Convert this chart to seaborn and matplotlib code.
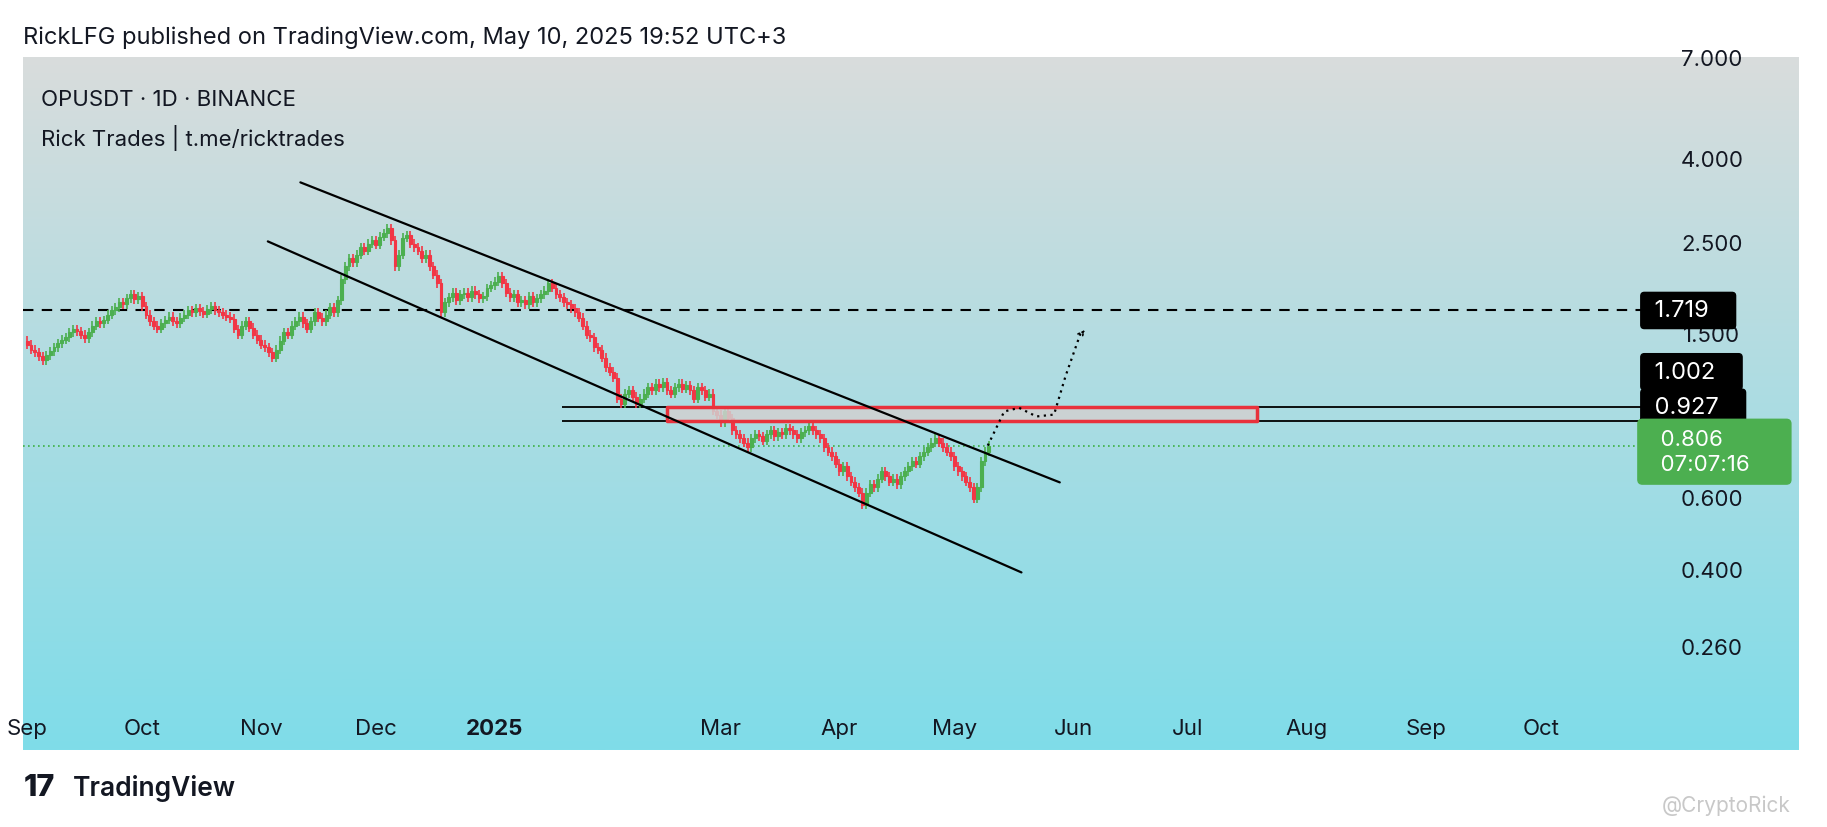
import numpy as np
import pandas as pd
import seaborn as sns
import matplotlib.pyplot as plt
from matplotlib.colors import LinearSegmentedColormap

# daily closes, OPUSDT, Sep 1 2024 .. May 10 2025
sep = [1.42, 1.38, 1.36, 1.33, 1.30, 1.34, 1.37, 1.40, 1.43, 1.46, 1.48, 1.52, 1.55, 1.53, 1.50,
       1.47, 1.52, 1.58, 1.62, 1.60, 1.63, 1.68, 1.72, 1.75, 1.80, 1.78, 1.84, 1.88, 1.83, 1.86]
oct_ = [1.76, 1.68, 1.62, 1.58, 1.55, 1.60, 1.63, 1.66, 1.62, 1.60, 1.65, 1.68, 1.72, 1.70, 1.74, 1.71,
        1.69, 1.73, 1.76, 1.72, 1.70, 1.68, 1.66, 1.64, 1.55, 1.50, 1.58, 1.62, 1.56, 1.50, 1.46]
nov = [1.42, 1.40, 1.36, 1.32, 1.38, 1.45, 1.52, 1.50, 1.58, 1.62, 1.66, 1.60, 1.55, 1.62, 1.70,
       1.65, 1.62, 1.68, 1.75, 1.70, 1.82, 2.05, 2.20, 2.30, 2.25, 2.35, 2.45, 2.40, 2.50, 2.55]
dec = [2.48, 2.60, 2.65, 2.72, 2.55, 2.20, 2.35, 2.58, 2.62, 2.50, 2.45, 2.40, 2.30, 2.35, 2.20, 2.10,
       2.00, 1.70, 1.80, 1.85, 1.90, 1.82, 1.88, 1.90, 1.85, 1.92, 1.88, 1.84, 1.86, 1.95, 1.98]
jan = [2.02, 2.08, 2.00, 1.90, 1.85, 1.88, 1.80, 1.82, 1.78, 1.86, 1.80, 1.84, 1.88, 1.92, 2.00, 1.95,
       1.88, 1.85, 1.80, 1.78, 1.74, 1.70, 1.65, 1.58, 1.50, 1.48, 1.40, 1.38, 1.32, 1.25, 1.22]
feb = [1.18, 1.05, 1.02, 1.08, 1.10, 1.06, 1.02, 1.05, 1.08, 1.12, 1.10, 1.14, 1.12, 1.15,
       1.10, 1.08, 1.12, 1.14, 1.11, 1.13, 1.10, 1.05, 1.12, 1.10, 1.06, 1.08, 0.98, 0.96]
mar = [0.92, 0.98, 0.94, 0.88, 0.86, 0.84, 0.82, 0.80, 0.84, 0.86, 0.85, 0.83, 0.86, 0.88, 0.85, 0.87,
       0.86, 0.89, 0.88, 0.86, 0.84, 0.87, 0.88, 0.90, 0.88, 0.86, 0.84, 0.80, 0.78, 0.76, 0.73]
apr = [0.70, 0.72, 0.68, 0.66, 0.64, 0.62, 0.58, 0.62, 0.65, 0.64, 0.67, 0.70, 0.68, 0.66, 0.67,
       0.65, 0.68, 0.70, 0.72, 0.74, 0.73, 0.76, 0.78, 0.80, 0.82, 0.84, 0.82, 0.80, 0.78, 0.76]
may = [0.72, 0.70, 0.68, 0.66, 0.64, 0.60, 0.64, 0.74, 0.78, 0.806]

closes = sep + oct_ + nov + dec + jan + feb + mar + apr + may
first_open = 1.45

# drawings (day index from Sep 1 2024, price)
upper_channel = ([71.3, 269.5], [3.52, 0.657])
lower_channel = ([62.8, 259.5], [2.53, 0.397])
projection = ([250.7, 255, 258.9, 263.4, 268, 271, 275], [0.807, 0.977, 0.997, 0.95, 0.96, 1.19, 1.52])
zone_start, zone_end = 167, 321
zone_top, zone_bottom = 1.002, 0.927
resistance = 1.719
last_price = 0.806

month_days = [0, 30, 61, 91, 122, 153, 181, 212, 242, 273, 303, 334, 365, 395]
month_labels = ['Sep', 'Oct', 'Nov', 'Dec', '2025', 'Feb', 'Mar', 'Apr', 'May', 'Jun', 'Jul', 'Aug', 'Sep', 'Oct']
price_ticks = [7.0, 4.0, 2.5, 1.5, 0.6, 0.4, 0.26]

df = pd.DataFrame({'day': np.arange(len(closes)), 'close': closes})
df['open'] = [first_open] + closes[:-1]
df['high'] = df[['open', 'close']].max(axis=1) * 1.025
df['low'] = df[['open', 'close']].min(axis=1) * 0.975

sns.set_style('white')
plt.rcParams['font.family'] = ['Inter', 'DejaVu Sans']
fig = plt.figure(figsize=(18.27, 8.28), dpi=100)
ax = fig.add_axes([0.0128, 0.093, 0.972, 0.837])

x0, x1 = -1, 462.5
ax.set_xlim(x0, x1)
ax.set_yscale('log')
ax.set_ylim(0.147, 7.1)

cmap = LinearSegmentedColormap.from_list('bg', ['#d9dcdc', '#7fdde9'])
ax.imshow(np.linspace(0, 1, 256).reshape(-1, 1), cmap=cmap, aspect='auto',
          extent=[0, 1, 0, 1], transform=ax.transAxes, zorder=0)

green, red = '#4caf50', '#f23645'
up = df['close'] >= df['open']
cols = np.where(up, green, red)
ax.vlines(df['day'], df['low'], df['high'], colors=cols, lw=1.2, zorder=3)
ax.bar(df['day'], (df['close'] - df['open']).abs(), bottom=df[['open', 'close']].min(axis=1),
       width=0.75, color=cols, edgecolor=cols, lw=0.8, zorder=4)

chart_end = 421.5
ax.hlines(resistance, x0, chart_end, colors='black', linestyles=(0, (5, 4)), lw=1.5, zorder=2)
ax.hlines(last_price, x0, chart_end, colors='#3cb043', linestyles=(0, (1, 2)), lw=1.2, zorder=2)
ax.hlines([zone_top, zone_bottom], 139.7, chart_end, colors='black', lw=1.3, zorder=2)
ax.fill_between([zone_start, zone_end], zone_bottom, zone_top, facecolor=(0.82, 0.82, 0.82, 0.85),
                edgecolor='#e8323c', lw=2.5, zorder=5)

sns.lineplot(x=upper_channel[0], y=upper_channel[1], ax=ax, color='black', lw=1.6, zorder=6)
sns.lineplot(x=lower_channel[0], y=lower_channel[1], ax=ax, color='black', lw=1.6, zorder=6)
ax.plot(projection[0], projection[1], color='black', ls=(0, (1, 2)), lw=1.6, zorder=6)
ax.annotate('', xy=(276.5, 1.56), xytext=(275, 1.50),
            arrowprops=dict(arrowstyle='->', color='black', lw=1.2, ls=':'))

for d, lab in zip(month_days, month_labels):
    if lab == 'Feb':
        continue
    ax.text(d, 0.166, lab, ha='center', va='center', fontsize=16,
            fontweight='bold' if lab == '2025' else 'normal', color='#131722', zorder=7)

label_x = 439.7
for p in price_ticks:
    ax.text(label_x, p, f'{p:.3f}', ha='center', va='center', fontsize=16, color='#131722', zorder=7)

box_style = dict(boxstyle='round,pad=0.3,rounding_size=0.15', fc='black', ec='black')
box_x = 423
for val, y in [('1.719', 1.719), ('1.002', 1.22), ('0.927', 1.0)]:
    ax.text(box_x, y, f' {val}   ', ha='left', va='center', fontsize=17, color='white', bbox=box_style, zorder=8)
ax.text(box_x, 0.78, '  0.806        \n  07:07:16     ', ha='left', va='center', fontsize=16, color='white',
        linespacing=1.3, bbox=dict(boxstyle='round,pad=0.45,rounding_size=0.2', fc=green, ec=green), zorder=8)

ax.text(0.01, 0.94, 'OPUSDT · 1D · BINANCE', transform=ax.transAxes, fontsize=16, color='#131722', va='center')
ax.text(0.01, 0.885, 'Rick Trades | t.me/ricktrades', transform=ax.transAxes, fontsize=16, color='#131722', va='center')
ax.set_xticks([])
ax.set_yticks([])
for s in ax.spines.values():
    s.set_visible(False)

fig.text(0.0128, 0.954, 'RickLFG published on TradingView.com, May 10, 2025 19:52 UTC+3', fontsize=17,
         color='#131722', va='center')
fig.text(0.0128, 0.048, '17', fontsize=22, fontweight='heavy', color='#131722', va='center')
fig.text(0.04, 0.048, 'TradingView', fontsize=19, fontweight='semibold', color='#131722', va='center')
fig.text(0.98, 0.027, '@CryptoRick', fontsize=15, color='#c8c8c8', ha='right', va='center')

fig.savefig('out.png', dpi=100)
